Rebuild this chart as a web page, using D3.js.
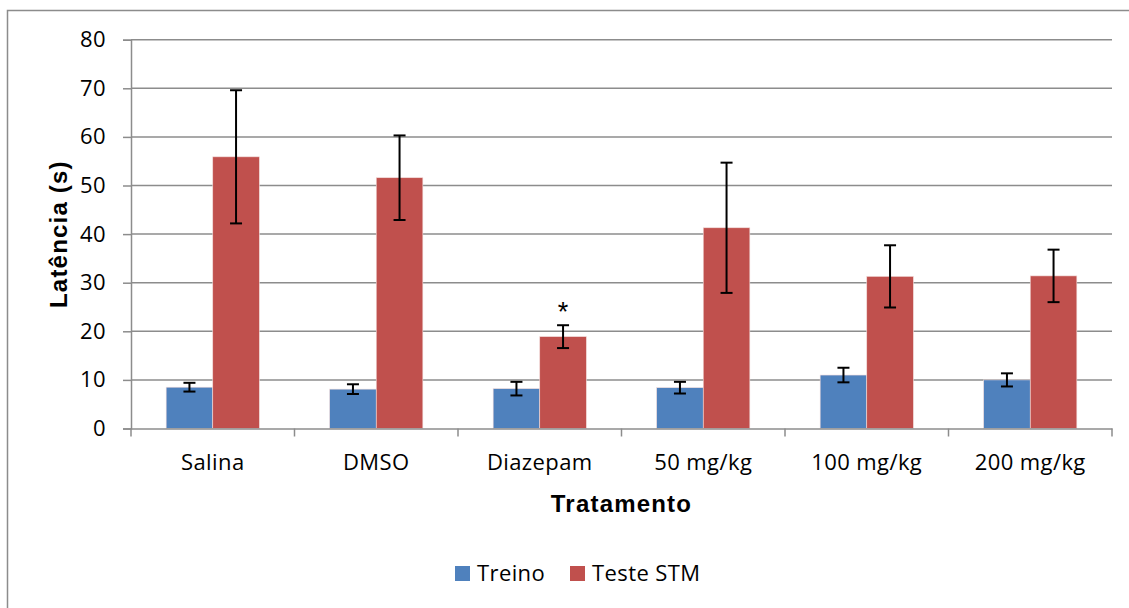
<!DOCTYPE html>
<html>
<head>
<meta charset="utf-8">
<script src="https://cdn.jsdelivr.net/npm/d3@7"></script>
<style>
  body { margin: 0; background: #fff; }
  svg { display: block; }
  .tick-lbl { font-family: "Open Sans", sans-serif; font-size: 22px; letter-spacing: 0.4px; fill: #000; }
  .axis-title { font-family: "Liberation Sans", Arial, sans-serif; font-weight: bold; font-size: 24px; letter-spacing: 1.2px; fill: #000; }
</style>
</head>
<body>
<svg id="chart" width="1129" height="608"></svg>
<script>
// Data
const categories = ['Salina', 'DMSO', 'Diazepam', '50 mg/kg', '100 mg/kg', '200 mg/kg'];
const series = ['Treino', 'Teste STM'];
const treino = [8.5, 8.1, 8.2, 8.4, 11.0, 10.0];
const treinoErr = [0.9, 1.0, 1.4, 1.2, 1.5, 1.35];
const teste = [55.9, 51.6, 18.9, 41.3, 31.3, 31.4];
const testeErr = [13.7, 8.7, 2.35, 13.4, 6.4, 5.4];
const yTicks = [0, 10, 20, 30, 40, 50, 60, 70, 80];
const marks = ['', '', '*', '', '', ''];

const COLORS = ['#4F81BD', '#C0504D'];
const GRID = '#8c8c8c';

const svg = d3.select('#chart');
const m = { left: 131, right: 1112, top: 39.7, bottom: 428.5 };

// outer chart border (runs off the right and bottom edges)
svg.append('rect')
  .attr('x', 7.5).attr('y', 10.5).attr('width', 1140).attr('height', 620)
  .attr('fill', 'none').attr('stroke', '#8c8c8c').attr('stroke-width', 1.5);

const x = d3.scaleBand().domain(categories).range([m.left, m.right]).paddingInner(0).paddingOuter(0);
const barW = x.bandwidth() * 0.285;
const xs = d3.scaleBand().domain(series).range([x.bandwidth() / 2 - barW, x.bandwidth() / 2 + barW]);
const y = d3.scaleLinear().domain([0, 80]).range([m.bottom, m.top]);

// gridlines
svg.append('g').selectAll('line').data(yTicks.slice(1)).join('line')
  .attr('x1', m.left).attr('x2', m.right)
  .attr('y1', d => y(d)).attr('y2', d => y(d))
  .attr('stroke', GRID).attr('stroke-width', 1.5);

// y axis
const yAxis = svg.append('g').attr('transform', `translate(${m.left},0)`)
  .call(d3.axisLeft(y).tickValues(yTicks).tickSize(8).tickPadding(17));
yAxis.select('.domain').attr('stroke', GRID).attr('stroke-width', 1.5);
yAxis.selectAll('.tick line').attr('stroke', GRID).attr('stroke-width', 1.5);
yAxis.selectAll('.tick text').attr('class', 'tick-lbl');

// bars
const rows = categories.map((c, i) => ({
  c, vals: [
    { s: series[0], v: treino[i], e: treinoErr[i] },
    { s: series[1], v: teste[i], e: testeErr[i] }
  ]
}));

const grp = svg.append('g').selectAll('g').data(rows).join('g')
  .attr('transform', d => `translate(${x(d.c)},0)`);

grp.selectAll('rect').data(d => d.vals).join('rect')
  .attr('x', d => xs(d.s)).attr('width', xs.bandwidth())
  .attr('y', d => y(d.v)).attr('height', d => y(0) - y(d.v))
  .attr('fill', (d, i) => COLORS[i])
  .attr('stroke', '#f2dcdb').attr('stroke-width', 0.6);

// error bars
const capW = 6;
const cx = d => xs(d.s) + xs.bandwidth() / 2;
const eb = grp.selectAll('g.err').data(d => d.vals).join('g').attr('class', 'err');
eb.append('line')
  .attr('x1', cx).attr('x2', cx)
  .attr('y1', d => y(d.v + d.e)).attr('y2', d => y(d.v - d.e));
eb.append('line')
  .attr('x1', d => cx(d) - capW).attr('x2', d => cx(d) + capW)
  .attr('y1', d => y(d.v + d.e)).attr('y2', d => y(d.v + d.e));
eb.append('line')
  .attr('x1', d => cx(d) - capW).attr('x2', d => cx(d) + capW)
  .attr('y1', d => y(d.v - d.e)).attr('y2', d => y(d.v - d.e));
eb.selectAll('line').attr('stroke', '#000').attr('stroke-width', 2);

// significance marks
grp.append('text')
  .attr('x', xs(series[1]) + xs.bandwidth() / 2)
  .attr('y', (d, i) => y(teste[i] + testeErr[i]) - 4)
  .attr('text-anchor', 'middle')
  .attr('font-family', 'Liberation Sans, Arial, sans-serif')
  .attr('font-size', 27)
  .text((d, i) => marks[i]);

// x axis
const xAxis = svg.append('g').attr('transform', `translate(0,${m.bottom})`)
  .call(d3.axisBottom(x).tickSize(0).tickPadding(26));
xAxis.select('.domain').attr('stroke', GRID).attr('stroke-width', 1.5);
xAxis.selectAll('.tick text').attr('class', 'tick-lbl');
// category boundary ticks
svg.append('g').selectAll('line').data(categories.concat([null])).join('line')
  .attr('x1', (d, i) => m.left + i * x.step()).attr('x2', (d, i) => m.left + i * x.step())
  .attr('y1', m.bottom).attr('y2', m.bottom + 8)
  .attr('stroke', GRID).attr('stroke-width', 1.5);

// axis titles
svg.append('text').attr('class', 'axis-title')
  .attr('x', (m.left + m.right) / 2).attr('y', 512)
  .attr('text-anchor', 'middle').text('Tratamento');
svg.append('text').attr('class', 'axis-title')
  .attr('transform', `translate(67,${(m.top + m.bottom) / 2}) rotate(-90)`)
  .attr('text-anchor', 'middle').text('Latência (s)');

// legend
const legend = svg.append('g').attr('transform', 'translate(455,566)');
const li = legend.selectAll('g').data(series).join('g')
  .attr('transform', (d, i) => `translate(${i * 115},0)`);
li.append('rect').attr('width', 15).attr('height', 15).attr('fill', (d, i) => COLORS[i]);
li.append('text').attr('class', 'tick-lbl').attr('x', 22).attr('y', 15).text(d => d);
</script>
</body>
</html>
